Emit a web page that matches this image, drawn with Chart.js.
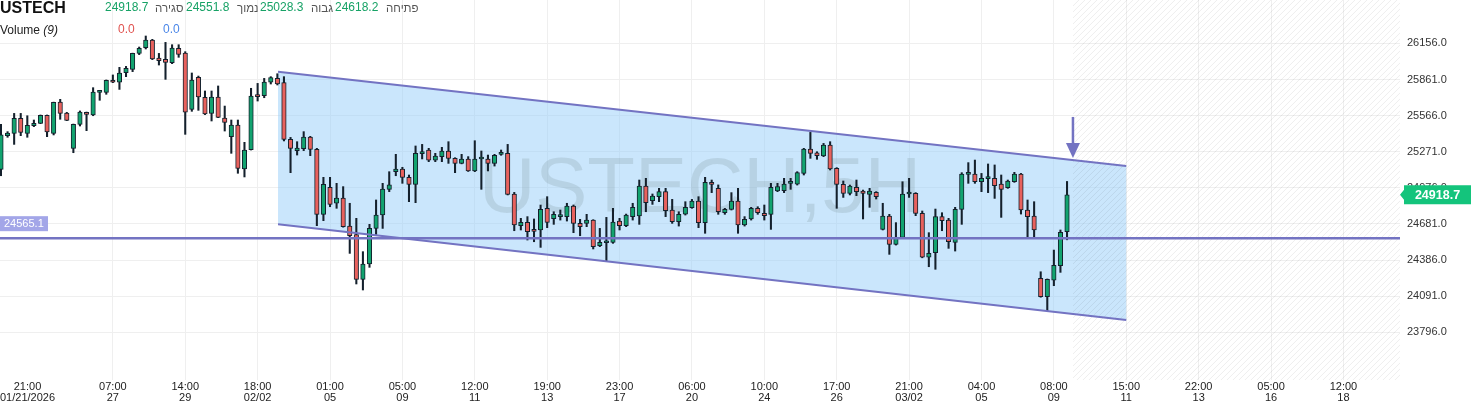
<!DOCTYPE html>
<html><head><meta charset="utf-8">
<script src="https://cdn.jsdelivr.net/npm/chart.js@4.4.1/dist/chart.umd.min.js"></script>
<style>
html,body{margin:0;padding:0;background:#fff;}
#wrap{position:relative;width:1471px;height:405px;overflow:hidden;font-family:"Liberation Sans",Arial,sans-serif;}
canvas{position:absolute;left:0;top:0;}
.t{position:absolute;white-space:nowrap;line-height:1;}
.g{color:#17a266;font-size:12px;top:0.5px;}
.h{color:#555;font-size:11.5px;top:3px;}
</style></head><body>
<div id="wrap"><canvas id="c" width="1471" height="405"></canvas>
<div class="t" style="left:0;top:0;font-size:16px;font-weight:bold;color:#111">USTECH</div>
<div class="t g" style="left:105px">24918.7</div>
<div class="t h" style="left:155px">סגירה</div>
<div class="t g" style="left:186px">24551.8</div>
<div class="t h" style="left:237px">נמוך</div>
<div class="t g" style="left:260px">25028.3</div>
<div class="t h" style="left:311px">גבוה</div>
<div class="t g" style="left:335px">24618.2</div>
<div class="t h" style="left:386px">פתיחה</div>
<div class="t" style="left:0;top:24px;font-size:12px;color:#222">Volume <i>(9)</i></div>
<div class="t" style="left:118px;top:22.5px;font-size:12px;color:#e0524f">0.0</div>
<div class="t" style="left:163px;top:22.5px;font-size:12px;color:#4a86e8">0.0</div>
</div>
<script>
const openP = [25127,25402,25421,25544,25421,25484,25503,25568,25421,25677,
25587,25299,25495,25593,25571,25756,25756,25854,25838,25917,
25944,26074,26121,26183,26036,26025,25998,26115,26077,25617,
25878,25715,25584,25718,25546,25394,25489,25130,25288,25731,
25729,25838,25870,25835,25372,25280,25296,25391,25290,24760,
24980,24850,24893,24664,24594,24229,24354,24645,24754,24964,
25108,25130,25062,25005,25255,25285,25203,25231,25277,25217,
25176,25212,25114,25212,25212,25176,25250,25258,24926,24667,
24694,24632,24632,24809,24724,24741,24741,24828,24686,24686,
24713,24504,24528,24531,24705,24667,24741,24746,24991,24871,
24904,24945,24795,24700,24762,24814,24869,24692,25021,24972,
24773,24800,24869,24673,24722,24809,24768,24760,24950,24953,
25013,25007,25094,25293,25263,25236,25326,25135,25005,24931,
24980,24950,24923,24939,24637,24746,24515,24572,24926,24931,
24768,24409,24447,24741,24713,24531,24800,25086,25089,25026,
25051,25054,25007,24977,25026,25089,24795,24746,24237,24087,
24223,24340,24618.2];
const highP = [25495,25435,25584,25584,25565,25530,25571,25571,25676,25699,
25593,25497,25604,25595,25794,25772,25857,25898,25960,25968,
26076,26126,26216,26189,26074,26164,26145,26145,26088,25914,
25889,25767,25767,25808,25644,25530,25530,25348,25789,25829,
25870,25884,25908,25884,25388,25353,25435,25397,25299,25062,
25062,25013,24986,24850,24727,24455,24678,24877,25013,25108,
25250,25144,25081,25318,25331,25299,25258,25307,25353,25222,
25250,25231,25361,25277,25244,25250,25285,25331,24939,24727,
24741,24722,24836,24904,24781,24795,24850,24836,24719,24760,
24716,24645,24735,24809,24727,24762,24850,25040,25054,24926,
24972,24972,24882,24781,24863,24882,24904,25062,25040,25000,
24809,24937,24972,24741,24817,24822,24836,25013,25013,25054,
25054,25108,25299,25429,25271,25339,25353,25141,25032,24999,
25040,24958,24972,24945,24850,24760,24692,25026,25054,24937,
24787,24610,24803,24773,24727,24817,25100,25182,25203,25094,
25171,25163,25081,25040,25103,25094,24877,24863,24291,24232,
24468,24632,25028.3];
const lowP = [25075,25389,25331,25402,25389,25476,25500,25394,25408,25536,
25525,25263,25481,25443,25565,25691,25740,25835,25780,25884,
25925,26064,26110,26023,25979,25862,25990,26042,25413,25601,
25609,25574,25522,25549,25440,25258,25095,25065,25285,25685,
25712,25824,25816,25359,25100,25244,25280,25239,24667,24708,
24822,24809,24655,24441,24191,24142,24327,24596,24645,24945,
25075,25013,24863,24855,25212,25190,25190,25190,25176,25100,
25172,25110,25108,24964,25114,25154,25242,24918,24626,24632,
24550,24536,24490,24651,24678,24713,24705,24610,24585,24659,
24477,24496,24379,24523,24632,24659,24713,24678,24781,24841,
24863,24741,24686,24664,24754,24809,24651,24605,24937,24760,
24760,24795,24605,24664,24713,24760,24713,24637,24945,24937,
24964,24999,25081,25217,25209,25231,25122,24809,24898,24918,
24912,24722,24817,24885,24632,24433,24509,24564,24898,24749,
24405,24332,24311,24626,24482,24460,24678,25013,25013,24945,
24937,24890,24735,24972,25021,24762,24569,24569,24083,23970,
24177,24286,24551.8];
const closeP = [25408,25424,25544,25429,25487,25503,25568,25432,25674,25584,
25527,25495,25595,25576,25759,25761,25854,25838,25914,25952,
26074,26115,26183,26028,26015,26001,26118,26066,25595,25857,
25718,25579,25718,25552,25511,25489,25135,25285,25726,25721,
25840,25876,25824,25372,25299,25301,25391,25290,24760,25005,
24841,24893,24659,24586,24229,24354,24645,24754,24967,25000,
25130,25062,25005,25258,25258,25203,25236,25277,25217,25176,
25212,25114,25212,25217,25176,25242,25258,24923,24673,24694,
24618,24621,24800,24694,24760,24752,24828,24686,24659,24713,
24496,24531,24530,24697,24667,24754,24817,24991,24855,24909,
24945,24790,24700,24760,24817,24869,24692,25021,25005,24781,
24800,24869,24673,24719,24809,24773,24749,24980,24986,25007,
25021,25100,25293,25258,25239,25326,25130,25005,24931,24991,
24945,24931,24950,24904,24746,24515,24572,24926,24931,24768,
24409,24441,24741,24708,24536,24800,25089,25088,25026,25054,
25053,24994,24964,25032,25089,24795,24741,24632,24087,24229,
24343,24613,24918.7];

// x tick labels (candle slot index, time line, date line)
const xTickIdx  = [4.03,17,28,39,50,61,72,83,94,105,116,127,138,149,160,171,182,193,204];
const xTickTime = ["21:00","07:00","14:00","18:00","01:00","05:00","12:00","19:00","23:00","06:00","10:00","17:00","21:00","04:00","08:00","15:00","22:00","05:00","12:00"];
const xTickDate = ["01/21/2026","27","29","02/02","05","09","11","13","17","20","24","26","03/02","05","09","11","13","16","18"];
const yTicks = [23796,24091,24386,24681,24976,25271,25566,25861,26156];

// drawings
const channelX = [42.1, 171];
const channelTop = [25924, 25154];
const channelBottom = [24678, 23897];
const levelPrice = [24565.1];
const arrowX = [162.9];
const arrowPrice = [25555, 25220];
const futureStart = [162.9];
const lastPrice = [24918.7];
const watermark = "USTECH,5H";

const UP = '#12a36f', DOWN = '#e8615d', EDGE = '#14202c', PURPLE = '#7373c2';

const idx = openP.map((_, i) => i);
const wickData = idx.map(i => ({x: i, y: [lowP[i], highP[i]]}));
const bodyData = idx.map(i => ({x: i, y: [openP[i], closeP[i]]}));
const bodyColors = idx.map(i => closeP[i] >= openP[i] ? UP : DOWN);

const overlay = {
  id: 'overlay',
  beforeDatasetsDraw(chart) {
    const {ctx, chartArea: a, scales: {x, y}} = chart;
    ctx.save();
    ctx.beginPath(); ctx.rect(a.left, a.top, a.right - a.left, a.bottom - a.top); ctx.clip();
    ctx.beginPath();
    ctx.moveTo(x.getPixelForValue(channelX[0]), y.getPixelForValue(channelTop[0]));
    ctx.lineTo(x.getPixelForValue(channelX[1]), y.getPixelForValue(channelTop[1]));
    ctx.lineTo(x.getPixelForValue(channelX[1]), y.getPixelForValue(channelBottom[1]));
    ctx.lineTo(x.getPixelForValue(channelX[0]), y.getPixelForValue(channelBottom[0]));
    ctx.closePath();
    ctx.fillStyle = 'rgba(150,205,250,0.5)';
    ctx.fill();
    const hx = x.getPixelForValue(futureStart[0]);
    ctx.save();
    ctx.beginPath(); ctx.rect(hx, a.top, a.right - hx, a.bottom - a.top); ctx.clip();
    ctx.strokeStyle = 'rgba(0,0,0,0.07)'; ctx.lineWidth = 1;
    const H = a.bottom - a.top;
    for (let k = hx - H; k < a.right + 6; k += 6) {
      ctx.beginPath(); ctx.moveTo(k, a.bottom); ctx.lineTo(k + H, a.top); ctx.stroke();
    }
    ctx.restore();
    ctx.font = '78px "Liberation Sans", Arial, sans-serif';
    ctx.textAlign = 'center'; ctx.textBaseline = 'alphabetic';
    ctx.fillStyle = 'rgba(120,140,145,0.22)';
    ctx.fillText(watermark, (a.left + a.right) / 2, a.top + 212);
    ctx.restore();
  },
  afterDatasetsDraw(chart) {
    const {ctx, chartArea: a, scales: {x, y}} = chart;
    ctx.save();
    ctx.beginPath(); ctx.rect(a.left, a.top, a.right - a.left, a.bottom - a.top); ctx.clip();
    ctx.strokeStyle = PURPLE; ctx.lineWidth = 2;
    ctx.beginPath();
    ctx.moveTo(x.getPixelForValue(channelX[0]), y.getPixelForValue(channelTop[0]));
    ctx.lineTo(x.getPixelForValue(channelX[1]), y.getPixelForValue(channelTop[1]));
    ctx.moveTo(x.getPixelForValue(channelX[0]), y.getPixelForValue(channelBottom[0]));
    ctx.lineTo(x.getPixelForValue(channelX[1]), y.getPixelForValue(channelBottom[1]));
    ctx.stroke();
    const ly = y.getPixelForValue(levelPrice[0]);
    ctx.lineWidth = 2.5;
    ctx.beginPath(); ctx.moveTo(a.left, ly); ctx.lineTo(a.right, ly); ctx.stroke();
    const ax = x.getPixelForValue(arrowX[0]);
    const at = y.getPixelForValue(arrowPrice[0]);
    const ab = y.getPixelForValue(arrowPrice[1]);
    ctx.lineWidth = 2.5;
    ctx.beginPath(); ctx.moveTo(ax, at); ctx.lineTo(ax, ab - 12); ctx.stroke();
    ctx.fillStyle = PURPLE;
    ctx.beginPath(); ctx.moveTo(ax - 7, ab - 15); ctx.lineTo(ax + 7, ab - 15); ctx.lineTo(ax, ab); ctx.closePath(); ctx.fill();
    ctx.fillStyle = '#a3a6e8';
    ctx.fillRect(a.left, ly - 22, 48, 15);
    ctx.fillStyle = '#fff';
    ctx.font = '11px "Liberation Sans", Arial, sans-serif';
    ctx.textAlign = 'left'; ctx.textBaseline = 'middle';
    ctx.fillText(levelPrice[0].toFixed(1), a.left + 4, ly - 14.5);
    ctx.restore();
  },
  afterDraw(chart) {
    const {ctx, chartArea: a, scales: {y}} = chart;
    const py = y.getPixelForValue(lastPrice[0]);
    ctx.save();
    ctx.fillStyle = '#14c47c';
    ctx.beginPath();
    ctx.moveTo(a.right, py);
    ctx.lineTo(a.right + 4, py - 5);
    ctx.lineTo(a.right + 4, py - 9.5);
    ctx.lineTo(chart.width, py - 9.5);
    ctx.lineTo(chart.width, py + 9.5);
    ctx.lineTo(a.right + 4, py + 9.5);
    ctx.lineTo(a.right + 4, py + 5);
    ctx.closePath(); ctx.fill();
    ctx.fillStyle = '#fff';
    ctx.font = 'bold 12.5px "Liberation Sans", Arial, sans-serif';
    ctx.textAlign = 'center'; ctx.textBaseline = 'middle';
    ctx.fillText(lastPrice[0].toFixed(1), (a.right + 4 + chart.width) / 2, py + 0.5);
    ctx.restore();
  }
};

new Chart(document.getElementById('c'), {
  type: 'bar',
  data: {
    datasets: [
      {label: 'body', data: bodyData, order: 0, grouped: false, barThickness: 4.5, minBarLength: 2,
       backgroundColor: bodyColors, borderColor: EDGE, borderWidth: 1, borderSkipped: false},
      {label: 'wick', data: wickData, order: 1, grouped: false, barThickness: 1.4,
       backgroundColor: EDGE, borderWidth: 0}
    ]
  },
  options: {
    responsive: false, animation: false,
    layout: {padding: 0},
    plugins: {legend: {display: false}, tooltip: {enabled: false}},
    scales: {
      x: {
        type: 'linear', bounds: 'data', min: -0.15, max: 212.6, offset: false,
        afterBuildTicks: s => { s.ticks = xTickIdx.map(v => ({value: v})); },
        afterFit: s => { s.height = 25; s.paddingLeft = 0; s.paddingRight = 0; s.paddingTop = 0; s.paddingBottom = 0; },
        grid: {offset: false, color: c => (c.index === 0 ? 'rgba(0,0,0,0)' : '#efefef'), drawTicks: false, lineWidth: 1},
        border: {display: false},
        ticks: {autoSkip: false, maxRotation: 0, padding: 1, color: '#222',
          font: {family: '"Liberation Sans", Arial, sans-serif', size: 11, lineHeight: 1},
          callback: (v, i) => [xTickTime[i], xTickDate[i]]}
      },
      y: {
        type: 'linear', position: 'right', bounds: 'data', min: 23407, max: 26510,
        afterBuildTicks: s => { s.ticks = yTicks.map(v => ({value: v})); },
        afterFit: s => { s.width = 71; s.paddingTop = 0; s.paddingBottom = 0; s.paddingLeft = 0; s.paddingRight = 0; },
        grid: {color: '#efefef', drawTicks: false},
        border: {display: false},
        ticks: {padding: 7, color: '#333',
          font: {family: '"Liberation Sans", Arial, sans-serif', size: 11},
          callback: v => Number(v).toFixed(1)}
      }
    }
  },
  plugins: [overlay]
});
</script>
</body></html>
